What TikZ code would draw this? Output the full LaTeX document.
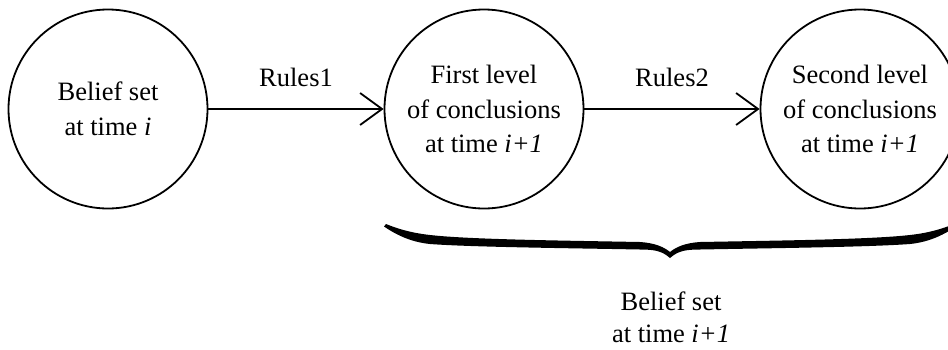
\documentclass[tikz,border=0pt]{standalone}
\usepackage{fontspec}
\setmainfont{Liberation Serif}
\usetikzlibrary{arrows.meta}
\begin{document}
\begin{tikzpicture}[x=1pt,y=-1pt,
  state/.style={circle,draw,line width=1.8pt,minimum size=199pt,inner sep=0pt,align=center,font=\fontsize{26.5}{34.5}\selectfont},
  lbl/.style={font=\fontsize{26.5}{32}\selectfont,align=center,inner sep=0pt},
  conn/.style={line width=1.8pt,-{Straight Barb[length=22pt,width=32pt,line width=1.8pt]}},
  bracefill/.style={fill=black,draw=none}]
\useasboundingbox (0,0) rectangle (948,349);
\clip (0,0) rectangle (948,349);
\node[state] (b0) at (108,109) {Belief set\\at time \textit{i}};
\node[state] (c1) at (484,109) {First level\\of conclusions\\at time \textit{i+1}};
\node[state] (c2) at (860,109) {Second level\\of conclusions\\at time \textit{i+1}};
\draw[conn] (b0) -- (c1) node[midway,lbl,anchor=base,yshift=23pt] (r1) {Rules1};
\draw[conn] (c1) -- (c2) node[midway,lbl,anchor=base,yshift=23pt] (r2) {Rules2};
% calligraphic brace
\fill[bracefill]
  (670,258) .. controls (662,251) and (655,249.5) .. (640,249.5)
  .. controls (560,248) and (470,247) .. (430,244)
  .. controls (410,242) and (395,234) .. (384,226.5)
  -- (386,224)
  .. controls (398,229) and (412,233) .. (430,235)
  .. controls (470,239.5) and (560,240.5) .. (640,242)
  .. controls (655,243) and (664,247) .. (670,252)
  .. controls (676,247) and (685,243) .. (700,242)
  .. controls (780,240.5) and (870,239.5) .. (910,235)
  .. controls (928,233) and (942,229) .. (954,224)
  -- (956,226.5)
  .. controls (945,234) and (930,242) .. (910,244)
  .. controls (870,247) and (780,248) .. (700,249.5)
  .. controls (685,249.5) and (678,251) .. (670,258) -- cycle;
\node[lbl] (bs) at (671,317) {Belief set\\at time \textit{i+1}};
\end{tikzpicture}
\end{document}
